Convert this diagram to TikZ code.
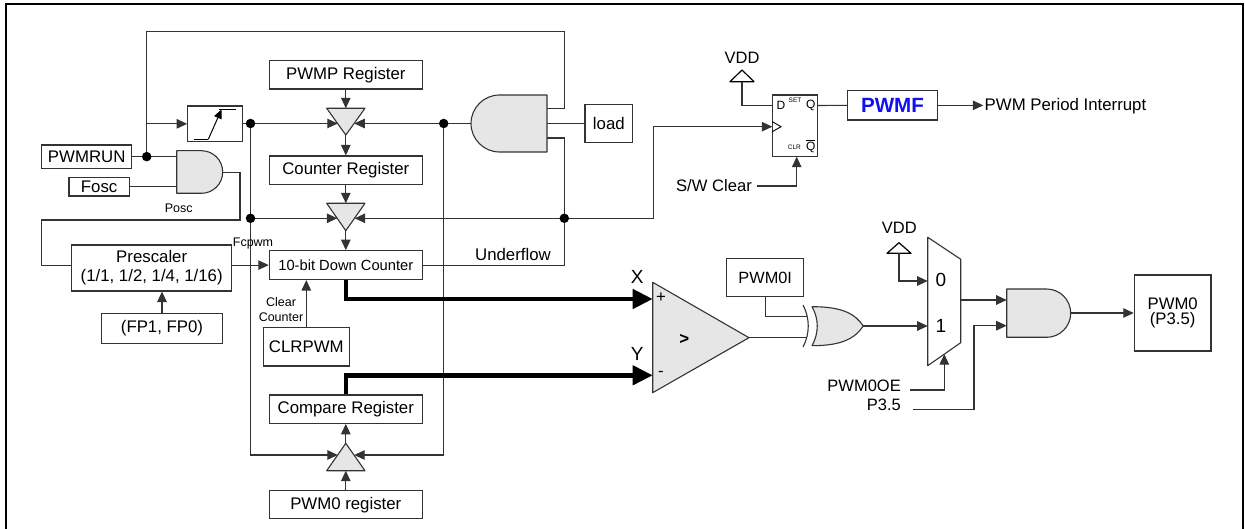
\documentclass[tikz,border=0pt]{standalone}
\usepackage{fontspec}
\setmainfont{Liberation Sans}
\usetikzlibrary{arrows.meta,calc}
\newcommand\fnorm{\fontsize{16.8pt}{19pt}\selectfont}
\newcommand\fmid{\fontsize{14.7pt}{17pt}\selectfont}
\newcommand\fsmall{\fontsize{12.5pt}{15.6pt}\selectfont}
\newcommand\ftiny{\fontsize{6.5pt}{7pt}\selectfont}
\definecolor{gfill}{HTML}{E6E6E6}
\definecolor{pwmfblue}{HTML}{1010F0}
\begin{document}
\begin{tikzpicture}[x=1pt,y=-1pt,
  wire/.style={draw=black!80, line width=1.1pt},
  arr/.style={wire, -{Triangle[length=10.5pt,width=9.5pt]}},
  box/.style={draw=black!80, line width=1.1pt, inner sep=0pt, font=\fnorm, align=center},
  bigarr/.style={draw=black, line width=4.5pt, -{Triangle[length=20pt,width=19pt]}},
  dot/.style={circle, fill=black, inner sep=0pt, minimum size=9.5pt},
  gate/.style={draw=black!80, line width=1.1pt, fill=gfill, line join=round},
  lbl/.style={inner sep=0pt, font=\fnorm},
]
\useasboundingbox (0,0) rectangle (1245,529);
\draw[line width=2pt] (6,540) -- (6,4.5) -- (1243,4.5) -- (1243,540);

% ---------- boxes ----------
\node[box, minimum width=153pt, minimum height=28.3pt] (pwmp) at (345.8,74.85) {PWMP Register};
\node[box, minimum width=153pt, minimum height=28.3pt] (creg) at (345.8,170.15) {Counter Register};
\node[box, minimum width=153pt, minimum height=28.8pt, font=\fmid] (cnt) at (345.8,265.1) {10-bit Down Counter};
\node[box, minimum width=153pt, minimum height=28.3pt] (cmp) at (345.8,409.15) {Compare Register};
\node[box, minimum width=153pt, minimum height=28pt] (p0reg) at (345.8,504.7) {PWM0 register};
\node[box, minimum width=90pt, minimum height=23.3pt] (pwmrun) at (86.7,156.65) {PWMRUN};
\node[box, minimum width=60.3pt, minimum height=18.3pt] (fosc) at (99.15,186.85) {Fosc};
\node[box, minimum width=160pt, minimum height=46pt] (presc) at (151.7,268) {Prescaler\\(1/1, 1/2, 1/4, 1/16)};
\node[box, minimum width=120.6pt, minimum height=30pt] (fp) at (162,328.3) {(FP1, FP0)};
\node[box, minimum width=86pt, minimum height=38.3pt] (clr) at (306.3,346.85) {CLRPWM};
\node[box, minimum width=54.6pt, minimum height=35.7pt] (edge) at (215,123.85) {};
\node[box, minimum width=47.7pt, minimum height=38.4pt] (load) at (608.85,123.5) {load};
\node[box, minimum width=45pt, minimum height=61.7pt] (ff) at (794.8,125.85) {};
\node[box, minimum width=90.4pt, minimum height=29.3pt, font=\fontsize{20.6pt}{22pt}\selectfont\bfseries, text=pwmfblue] (pwmf) at (892.5,105.35) {PWMF};
\node[box, minimum width=77pt, minimum height=38.4pt, font=\fontsize{16.3pt}{19pt}\selectfont] (pwm0i) at (765.2,277.5) {PWM0I};
\node[box, minimum width=76.7pt, minimum height=76pt, font=\fontsize{16.7pt}{15.5pt}\selectfont] (pwm0) at (1172.65,313) {PWM0\\(P3.5)};

% ---------- edge detector symbol ----------
\draw[line width=1pt] (194,139.3) -- (208.3,139.3);
\draw[line width=1pt, -{Triangle[length=9pt,width=8pt]}] (208.3,139.3) -- (221.5,109.5);
\draw[line width=1pt] (219,109.5) -- (236,109.5);

% ---------- gates ----------
% Posc AND
\draw[gate] (176.7,150.7) -- (201.4,150.7) .. controls (213.2,150.7) and (222.7,160.2) .. (222.7,172)
  .. controls (222.7,183.8) and (213.2,193.3) .. (201.4,193.3) -- (176.7,193.3) -- cycle;
\coordinate (poscA) at (176.7,156.65);
\coordinate (poscB) at (176.7,186.85);
\coordinate (poscO) at (222.7,172.5);
% load AND (facing left)
\draw[gate] (547,95) -- (499.5,95) .. controls (483.8,95) and (471,107.8) .. (471,123.5)
  .. controls (471,139.2) and (483.8,152) .. (499.5,152) -- (547,152) -- cycle;
\coordinate (ldA) at (547,108.5);
\coordinate (ldB) at (547,123.5);
\coordinate (ldC) at (547,138);
\coordinate (ldO) at (471,123.5);
% buffer triangles
\draw[gate] (326.7,108.3) -- (365,108.3) -- (345.8,135) -- cycle;
\draw[gate] (326.7,203.3) -- (365,203.3) -- (345.8,230.7) -- cycle;
\draw[gate] (326.7,470.7) -- (365,470.7) -- (345.8,443.3) -- cycle;
% comparator
\draw[gate] (652.7,282.3) -- (749,337.7) -- (652.7,392.7) -- cycle;
% XOR
\draw[draw=black!80, line width=1.1pt] (803,305) .. controls (810,318) and (810,334) .. (803,347);
\draw[gate] (812,306.7) .. controls (843,306.7) and (855,314) .. (863.3,326)
  .. controls (855,338) and (843,345.7) .. (812,345.7)
  .. controls (819,333) and (819,319) .. (812,306.7) -- cycle;
% mux
\draw[draw=black!80, line width=1.1pt, line join=round] (927.7,237.3) -- (960.7,259.3) -- (960.7,342.7) -- (927.7,365.7) -- cycle;
% output AND
\draw[gate] (1006.7,289) -- (1046.6,289) .. controls (1059.9,289) and (1070.7,299.8) .. (1070.7,313.2)
  .. controls (1070.7,326.5) and (1059.9,337.3) .. (1046.6,337.3) -- (1006.7,337.3) -- cycle;
% VDD symbols
\draw[draw=black, line width=1.2pt, line join=round] (742,70) -- (754,81.7) -- (730,81.7) -- cycle;
\draw[draw=black, line width=1.2pt, line join=round] (899,242.7) -- (911,253.3) -- (887,253.3) -- cycle;
% FF clock mark
\draw[line width=0.9pt] (772.3,121.7) -- (781,126.7) -- (772.3,131.7);

% ---------- dots ----------
\coordinate (j1) at (146.7,156.65);
\coordinate (d1) at (250.5,123.5);
\coordinate (d2) at (250.5,218.3);
\coordinate (d3) at (443.7,123.5);
\coordinate (d4) at (564.3,218.3);

% ---------- wires ----------
\draw[wire] (pwmrun.east) -- (poscA);
\draw[wire] (j1) -- (146.7,31.7) -- (564.3,31.7) -- (564.3,108.5) -- (ldA);
\draw[arr] (146.7,123.85) -- (edge.west);
\draw[wire] (fosc.east) -- (poscB);
\draw[wire] (poscO) -- (240,172.5) -- (240,220) -- (41.7,220) -- (41.7,265.1) -- (71.7,265.1);
\draw[arr] (231.7,265.1) -- (cnt.west);
\draw[arr] (fp.north) -- (fp.north |- presc.south);
\draw[arr] (clr.north) -- (clr.north |- cnt.south);

\draw[wire] (edge.east |- d1) -- (d1);
\draw[arr] (d1) -- (337.75,123.5);
\draw[arr] (d1) -- (250.5,455) -- (337.8,455);
\draw[arr] (d2) -- (337.3,218.3);

\draw[wire] (ldO) -- (d3);
\draw[arr] (d3) -- (354.25,123.5);
\draw[arr] (d3) -- (443.7,455) -- (354.2,455);
\draw[wire] (ldB) -- (load.west);
\draw[wire] (cnt.east) -- (564.3,265.1) -- (564.3,138) -- (ldC);
\draw[arr] (d4) -- (354.7,218.3);
\draw[arr] (d4) -- (653.3,218.3) -- (653.3,126.7) -- (772.3,126.7);

\draw[arr] (pwmp.south) -- (345.8,108.3);
\draw[arr] (345.8,135) -- (creg.north);
\draw[arr] (creg.south) -- (345.8,203.3);
\draw[arr] (345.8,230.7) -- (cnt.north);
\draw[arr] (p0reg.north) -- (345.8,470.7);
\draw[arr] (345.8,443.3) -- (cmp.south);

\draw[bigarr] (cnt.south) -- (345.8,299) -- (652.7,299);
\draw[bigarr] (cmp.north) -- (345.8,375.3) -- (652.7,375.3);

\draw[wire] (749,337.7) -- (807,337.7);
\draw[wire] (pwm0i.south) -- (765.2,316.7) -- (807,316.7);
\draw[arr] (863.3,326) -- (927.7,326);
\draw[arr] (899,253.3) -- (899,281) -- (927.7,281);
\draw[arr] (910,390) -- (944.3,390) -- (944.3,354.1);
\draw[arr] (913,409.3) -- (974,409.3) -- (974,325.7) -- (1006.7,325.7);
\draw[arr] (960.7,300) -- (1006.7,300);
\draw[arr] (1070.7,313) -- (pwm0.west);

\draw[wire] (742,81.7) -- (742,105.5) -- (772.3,105.5);
\draw[wire] (817.3,105.5) -- (pwmf.west);
\draw[arr] (pwmf.east) -- (983.3,105.35);
\draw[arr] (756.7,186) -- (796.7,186) -- (796.7,156.7);

\foreach \d in {j1,d1,d2,d3,d4} \node[dot] at (\d) {};

% ---------- labels ----------
\node[lbl, font=\fsmall] (lposc) at (178.8,208.3) {Posc};
\node[lbl, font=\fsmall] (lfcpwm) at (253,243.3) {Fcpwm};
\node[lbl, font=\fsmall, align=center] (lclr) at (281,309.5) {Clear\\Counter};
\node[lbl] (luf) at (513,254) {Underflow};
\node[lbl, font=\fontsize{19pt}{20pt}\selectfont] (lx) at (637.3,276.7) {X};
\node[lbl, font=\fontsize{19pt}{20pt}\selectfont] (ly) at (637.3,354) {Y};
\node[lbl] (lplus) at (661,297.7) {+};
\node[lbl] (lminus) at (661,373.5) {-};
\node[lbl, font=\fnorm\bfseries] (lgt) at (684.3,339) {>};
\node[lbl, font=\fontsize{19pt}{20pt}\selectfont] (l0) at (941,280) {0};
\node[lbl, font=\fontsize{19pt}{20pt}\selectfont] (l1) at (941,326) {1};
\node[lbl, font=\fontsize{16.5pt}{18pt}\selectfont] (vdd1) at (742,58.3) {VDD};
\node[lbl, font=\fontsize{16.5pt}{18pt}\selectfont] (vdd2) at (899.3,228.3) {VDD};
\node[lbl, anchor=east, font=\fontsize{16.5pt}{18pt}\selectfont] (loe) at (901,385.7) {PWM0OE};
\node[lbl, anchor=east, font=\fontsize{16.5pt}{18pt}\selectfont] (lp35) at (901,405) {P3.5};
\node[lbl, anchor=west] (lint) at (984.5,106) {PWM Period Interrupt};
\node[lbl, anchor=east, font=\fontsize{16.6pt}{18pt}\selectfont] (lsw) at (752,186) {S/W Clear};
\node[lbl, font=\fontsize{12pt}{13pt}\selectfont] (ld) at (781,105.5) {D};
\node[lbl, font=\fontsize{12pt}{13pt}\selectfont] (lq) at (810.7,105.5) {Q};
\node[lbl, font=\ftiny] (lset) at (795,100) {SET};
\node[lbl, font=\ftiny] (lclrff) at (794.3,147.3) {CLR};
\node[lbl, font=\fontsize{12pt}{13pt}\selectfont] (lqb) at (810.7,146) {$\overline{\hbox{Q}}$};
\end{tikzpicture}
\end{document}
